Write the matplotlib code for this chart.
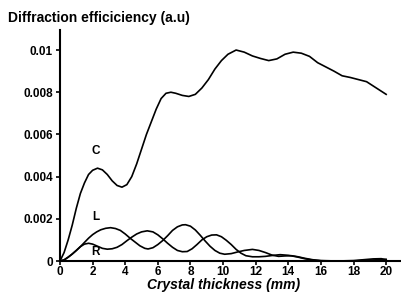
import matplotlib
matplotlib.use('Agg')
import matplotlib.pyplot as plt

# curves (thickness in mm, efficiency in a.u.)
c_x = [0, 0.25, 0.5, 0.75, 1.0, 1.25, 1.5, 1.75, 2.0, 2.3, 2.6, 2.9, 3.2, 3.5, 3.8, 4.1,
       4.4, 4.7, 5.0, 5.3, 5.6, 5.9, 6.2, 6.5, 6.8, 7.1, 7.5, 7.9, 8.3, 8.7, 9.1, 9.5, 9.9,
       10.3, 10.8, 11.3, 11.8, 12.3, 12.8, 13.3, 13.8, 14.3, 14.8, 15.3, 15.8, 16.3, 16.8,
       17.3, 17.8, 18.3, 18.8, 19.2, 19.6, 20.0]
c_y = [0, 0.0004, 0.0010, 0.0017, 0.0025, 0.0032, 0.0037, 0.0041, 0.0043, 0.0044, 0.00432,
       0.0041, 0.0038, 0.00358, 0.0035, 0.00362, 0.0040, 0.0046, 0.0053, 0.0060, 0.0066,
       0.0072, 0.0077, 0.00795, 0.0080, 0.00795, 0.00785, 0.0078, 0.0079, 0.0082, 0.0086,
       0.0091, 0.0095, 0.0098, 0.0100, 0.0099, 0.00972, 0.0096, 0.0095, 0.00958, 0.0098,
       0.0099, 0.00985, 0.0097, 0.0094, 0.0092, 0.0090, 0.00878, 0.0087, 0.0086, 0.0085,
       0.0083, 0.0081, 0.0079]

l_x = [0, 0.25, 0.5, 0.75, 1.0, 1.25, 1.5, 1.75, 2.0, 2.25, 2.5, 2.8, 3.1, 3.4, 3.7, 4.0,
       4.3, 4.6, 4.9, 5.2, 5.4, 5.7, 6.0, 6.3, 6.6, 6.9, 7.2, 7.5, 7.7, 8.0, 8.3, 8.6, 8.9,
       9.2, 9.5, 9.8, 10.1, 10.5, 10.9, 11.3, 11.8, 12.2, 12.6, 13.0, 13.4, 13.8, 14.2,
       14.6, 15.0, 15.5, 16.0, 17.0, 18.0, 18.6, 19.2, 19.7, 20.0]
l_y = [0, 0.00005, 0.00018, 0.00033, 0.0005, 0.00068, 0.00088, 0.00108, 0.00125, 0.00138,
       0.00148, 0.00155, 0.00158, 0.00154, 0.00145, 0.00128, 0.00108, 0.0009, 0.00072,
       0.0006, 0.00057, 0.00063, 0.00078, 0.00097, 0.0012, 0.00145, 0.00162, 0.00171,
       0.00172, 0.00165, 0.00147, 0.00122, 0.00095, 0.0007, 0.0005, 0.00037, 0.00032,
       0.00035, 0.00043, 0.0005, 0.00055, 0.0005, 0.0004, 0.00028, 0.00022, 0.00024,
       0.00025, 0.0002, 0.00013, 0.00006, 0.00002, 0, 0.00002, 0.00006, 0.0001, 0.00011,
       0.00006]

r_x = [0, 0.25, 0.5, 0.75, 1.0, 1.25, 1.5, 1.75, 2.0, 2.3, 2.6, 2.9, 3.2, 3.5, 3.8, 4.1,
       4.4, 4.7, 5.0, 5.35, 5.7, 6.0, 6.3, 6.6, 6.9, 7.2, 7.5, 7.8, 8.1, 8.4, 8.7, 9.0, 9.3,
       9.6, 9.9, 10.2, 10.5, 10.8, 11.1, 11.4, 11.8, 12.2, 12.6, 13.0, 13.5, 14.0, 14.5,
       15.0, 15.5, 16.0, 17.0, 18.0, 19.0, 20.0]
r_y = [0, 0.00005, 0.00018, 0.00033, 0.0005, 0.00068, 0.0008, 0.00084, 0.0008, 0.0007,
       0.0006, 0.00056, 0.00058, 0.00065, 0.00078, 0.00096, 0.00113, 0.00128, 0.00138,
       0.00143, 0.00138, 0.00124, 0.00105, 0.00084, 0.00065, 0.0005, 0.00044, 0.00045,
       0.00058, 0.00078, 0.001, 0.00115, 0.00123, 0.00124, 0.00115, 0.00098, 0.00078,
       0.00055, 0.00037, 0.00025, 0.0002, 0.0002, 0.00022, 0.00026, 0.0003, 0.00027,
       0.0002, 0.00011, 0.00004, 0.00001, 0, 0, 0.00004, 0.00008]

x_ticks = [0, 2, 4, 6, 8, 10, 12, 14, 16, 18, 20]
y_ticks = [0, 0.002, 0.004, 0.006, 0.008, 0.01]
y_tick_labels = ['0', '0.002', '0.004', '0.006', '0.008', '0.01']

plt.rcParams['font.family'] = ['Liberation Sans', 'DejaVu Sans']

fig = plt.figure(figsize=(4.01, 2.93), dpi=100)
ax = fig.add_axes([60/401, 32/293, 340/401, 231/293])

ax.plot(c_x, c_y, color='black', lw=1.2)
ax.plot(l_x, l_y, color='black', lw=1.2)
ax.plot(r_x, r_y, color='black', lw=1.2)

ax.text(2.2, 0.0052, 'C', fontsize=8.5, fontweight='bold', ha='center', va='center')
ax.text(2.2, 0.0021, 'L', fontsize=8.5, fontweight='bold', ha='center', va='center')
ax.text(2.2, 0.00044, 'R', fontsize=8.5, fontweight='bold', ha='center', va='center')

ax.set_xlim(0, 20.85)
ax.set_ylim(0, 0.01095)
ax.set_xticks(x_ticks)
ax.set_yticks(y_ticks)
ax.set_yticklabels(y_tick_labels)
for lab in ax.get_xticklabels() + ax.get_yticklabels():
    lab.set_fontweight('bold')
ax.tick_params(labelsize=8.5, width=1.2, length=3, pad=2, color='black')
ax.tick_params(axis='x', pad=0.5)

for side in ['top', 'right']:
    ax.spines[side].set_visible(False)
for side in ['left', 'bottom']:
    ax.spines[side].set_linewidth(1.5)

fig.text(8/401, 1 - 18/293, 'Diffraction efficiciency (a.u)', fontsize=10,
         fontweight='bold', ha='left', va='center')
fig.text(224/401, 1 - 285/293, 'Crystal thickness (mm)', fontsize=10,
         fontweight='bold', fontstyle='italic', ha='center', va='center')

fig.savefig('out.png', dpi=100)
